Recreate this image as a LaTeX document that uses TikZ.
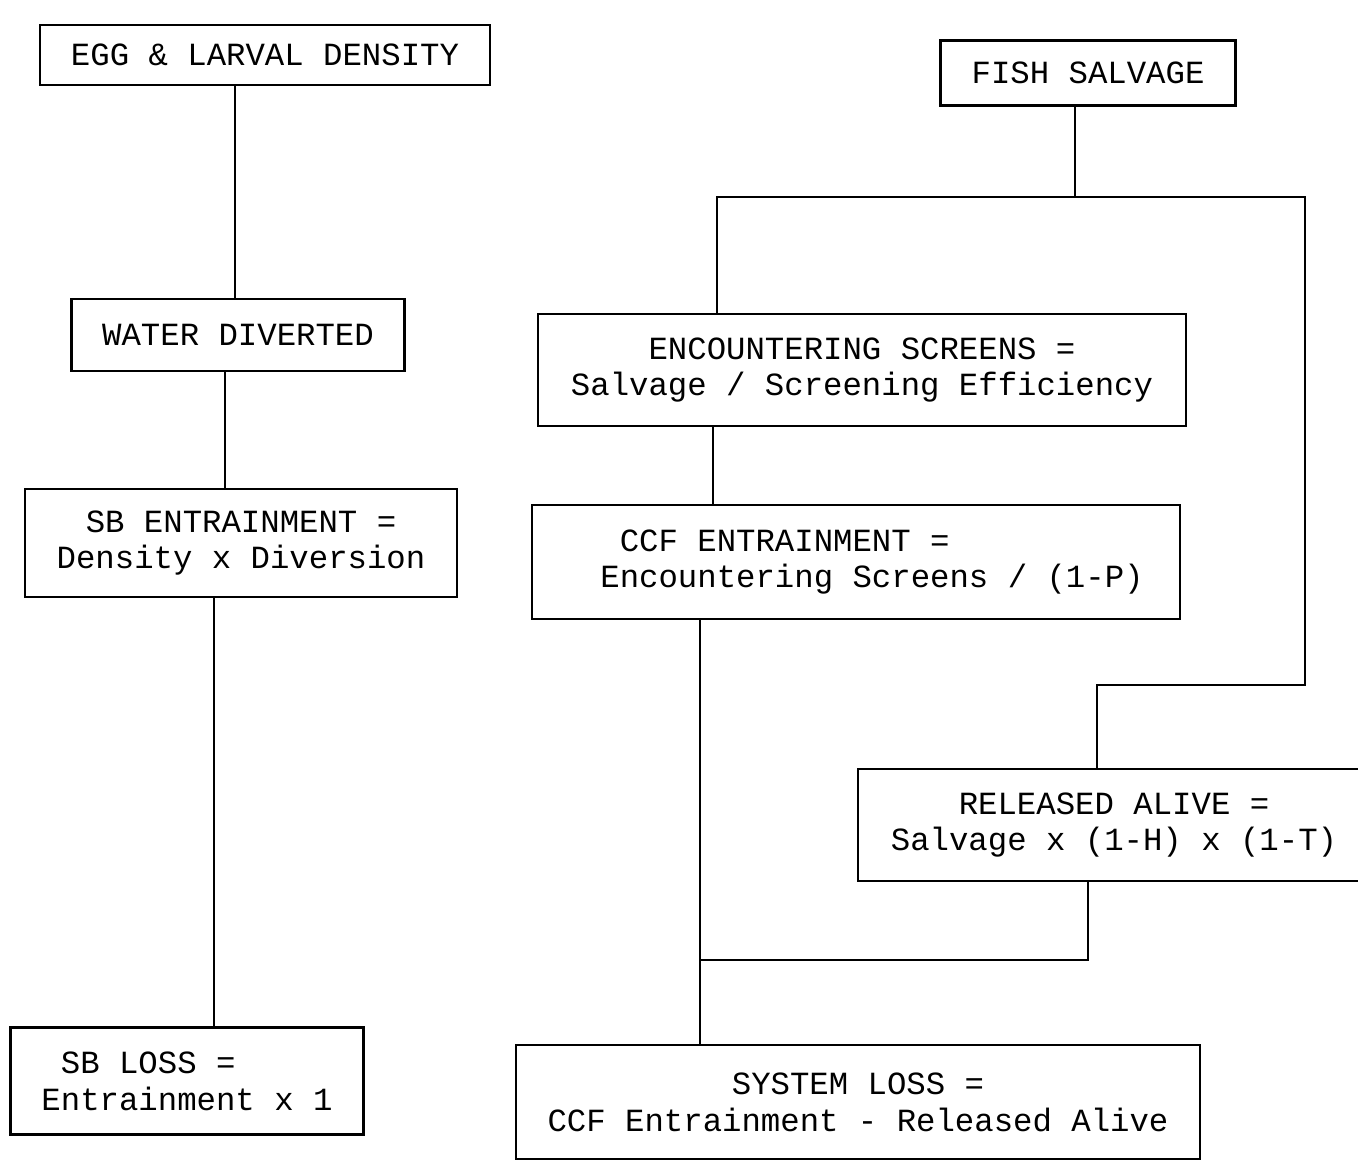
\documentclass[tikz,border=0pt]{standalone}
\usepackage{fontspec}
\newfontfamily\plotfont{Liberation Mono}
\usetikzlibrary{positioning}

\begin{document}
\begin{tikzpicture}[-,semithick,line width=0.6pt,
                    font=\plotfont\fontsize{9.2}{10.5}\selectfont]
	  \tikzset{box/.style={draw=black,fill=white,text=black,align=center,
	                       inner sep=0pt}}
	  \useasboundingbox (0,0) rectangle (13.58,-11.61);

	  % left column
	  \node[box,minimum width=4.5cm,minimum height=0.6cm]   (egg)    at (2.65,-0.55)  {EGG \& LARVAL DENSITY};
	  \node[box,minimum width=3.33cm,minimum height=0.72cm] (water)  at (2.38,-3.35)  {WATER DIVERTED};
	  \node[box,minimum width=4.32cm,minimum height=1.08cm] (sbent)  at (2.41,-5.43)  {SB ENTRAINMENT =\\Density x Diversion};
	  \node[box,minimum width=3.53cm,minimum height=1.07cm,align=left] (sbloss) at (1.87,-10.81)
	        {\phantom{E}SB LOSS =\\Entrainment x 1};

	  % right column
	  \node[box,minimum width=2.95cm,minimum height=0.65cm] (fish)   at (10.88,-0.73) {FISH SALVAGE};
	  \node[box,minimum width=6.48cm,minimum height=1.12cm] (enc)    at (8.62,-3.70)  {ENCOUNTERING SCREENS =\\Salvage / Screening Efficiency};
	  \node[box,minimum width=6.48cm,minimum height=1.14cm,align=left] (ccf) at (8.56,-5.62)
	        {\hspace*{3.2mm}\phantom{E}CCF ENTRAINMENT =\\\hspace*{3.2mm}Encountering Screens / (1-P)};
	  \node[box,minimum width=5.12cm,minimum height=1.12cm] (rel)    at (11.14,-8.25) {RELEASED ALIVE =\\Salvage x (1-H) x (1-T)};
	  \node[box,minimum width=6.84cm,minimum height=1.14cm] (sysloss) at (8.58,-11.02) {SYSTEM LOSS =\\CCF Entrainment - Released Alive};

	  % junctions
	  \coordinate (split) at ([xshift=-1.3mm]fish.south |- 0,-1.97);
	  \coordinate (splitL) at (7.17,-1.97);
	  \coordinate (splitR) at (13.05,-1.97);
	  \coordinate (turnR) at (13.05,-6.85);
	  \coordinate (turnL) at ([xshift=-1.7mm]rel.north |- turnR);
	  \coordinate (merge) at ([xshift=-15.6mm]ccf.south |- 0,-9.6);
	  \coordinate (mergeR) at ([xshift=-2.6mm]rel.south |- merge);

	  \draw ([xshift=-3mm]egg.south) -- ([xshift=-3mm]egg.south |- water.north);
	  \draw ([xshift=-1.3mm]water.south) -- ([xshift=-1.3mm]water.south |- sbent.north);
	  \draw ([xshift=-2.7mm]sbent.south) -- ([xshift=-2.7mm]sbent.south |- sbloss.north);

	  \draw ([xshift=-1.3mm]fish.south) -- (split);
	  \draw (splitL |- enc.north) -- (splitL) -- (splitR) -- (turnR) -- (turnL) -- (turnL |- rel.north);
	  \draw ([xshift=-14.9mm]enc.south) -- ([xshift=-14.9mm]enc.south |- ccf.north);
	  \draw ([xshift=-15.6mm]ccf.south) -- ([xshift=-15.6mm]ccf.south |- sysloss.north);
	  \draw ([xshift=-2.6mm]rel.south) -- (mergeR) -- (merge);
\end{tikzpicture}
\end{document}
